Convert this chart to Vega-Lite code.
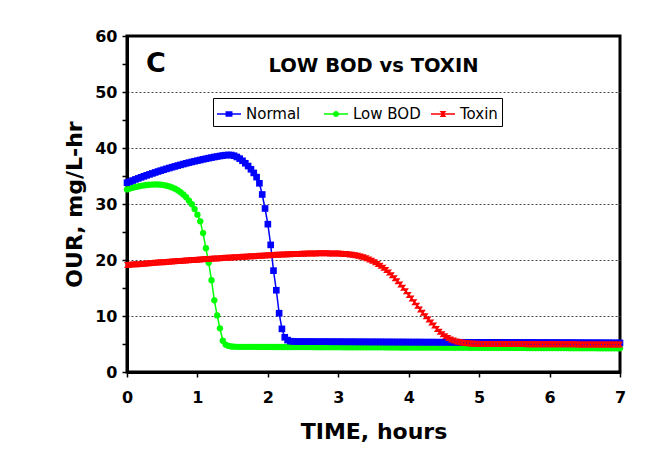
{
  "$schema": "https://vega.github.io/schema/vega-lite/v6.json",
  "width": 493,
  "height": 336,
  "autosize": {"type": "none"},
  "padding": {"left": 127, "top": 36, "right": 44, "bottom": 88},
  "background": "white",
  "title": {
    "text": "LOW BOD vs TOXIN",
    "anchor": "middle",
    "frame": "group",
    "offset": -48,
    "font": "DejaVu Sans",
    "fontSize": 19.5,
    "fontWeight": "bold",
    "color": "black"
  },
  "config": {
    "view": {"stroke": "black", "strokeWidth": 3},
    "axis": {
      "labelFont": "DejaVu Sans",
      "labelFontWeight": "bold",
      "labelFontSize": 16,
      "labelColor": "black",
      "titleFont": "DejaVu Sans",
      "titleFontWeight": "bold",
      "titleFontSize": 22,
      "titleColor": "black",
      "domainColor": "black",
      "domainWidth": 3,
      "tickColor": "black",
      "tickWidth": 1.5,
      "tickSize": 5,
      "labelFlush": false,
      "labelOverlap": false
    }
  },
  "data": {
    "values": [
      {"t": 0, "Normal": 33.8, "Low BOD": 32.6, "Toxin": 19.1},
      {"t": 0.04, "Normal": 34.0, "Low BOD": 32.75, "Toxin": 19.14},
      {"t": 0.08, "Normal": 34.19, "Low BOD": 32.9, "Toxin": 19.18},
      {"t": 0.12, "Normal": 34.39, "Low BOD": 33.03, "Toxin": 19.22},
      {"t": 0.16, "Normal": 34.57, "Low BOD": 33.14, "Toxin": 19.26},
      {"t": 0.2, "Normal": 34.76, "Low BOD": 33.24, "Toxin": 19.3},
      {"t": 0.24, "Normal": 34.94, "Low BOD": 33.32, "Toxin": 19.34},
      {"t": 0.28, "Normal": 35.12, "Low BOD": 33.39, "Toxin": 19.38},
      {"t": 0.32, "Normal": 35.29, "Low BOD": 33.44, "Toxin": 19.42},
      {"t": 0.36, "Normal": 35.46, "Low BOD": 33.47, "Toxin": 19.46},
      {"t": 0.4, "Normal": 35.63, "Low BOD": 33.49, "Toxin": 19.5},
      {"t": 0.44, "Normal": 35.8, "Low BOD": 33.48, "Toxin": 19.54},
      {"t": 0.48, "Normal": 35.96, "Low BOD": 33.45, "Toxin": 19.58},
      {"t": 0.52, "Normal": 36.12, "Low BOD": 33.38, "Toxin": 19.62},
      {"t": 0.56, "Normal": 36.27, "Low BOD": 33.28, "Toxin": 19.65},
      {"t": 0.6, "Normal": 36.42, "Low BOD": 33.14, "Toxin": 19.69},
      {"t": 0.64, "Normal": 36.57, "Low BOD": 32.96, "Toxin": 19.73},
      {"t": 0.68, "Normal": 36.71, "Low BOD": 32.74, "Toxin": 19.77},
      {"t": 0.72, "Normal": 36.86, "Low BOD": 32.46, "Toxin": 19.81},
      {"t": 0.76, "Normal": 36.99, "Low BOD": 32.12, "Toxin": 19.84},
      {"t": 0.8, "Normal": 37.13, "Low BOD": 31.7, "Toxin": 19.88},
      {"t": 0.84, "Normal": 37.26, "Low BOD": 31.2, "Toxin": 19.92},
      {"t": 0.88, "Normal": 37.39, "Low BOD": 30.6, "Toxin": 19.95},
      {"t": 0.92, "Normal": 37.51, "Low BOD": 29.95, "Toxin": 19.99},
      {"t": 0.96, "Normal": 37.63, "Low BOD": 29.1, "Toxin": 20.02},
      {"t": 1.0, "Normal": 37.75, "Low BOD": 28.1, "Toxin": 20.06},
      {"t": 1.04, "Normal": 37.86, "Low BOD": 26.9, "Toxin": 20.09},
      {"t": 1.08, "Normal": 37.98, "Low BOD": 24.8, "Toxin": 20.13},
      {"t": 1.12, "Normal": 38.08, "Low BOD": 22.1, "Toxin": 20.16},
      {"t": 1.16, "Normal": 38.19, "Low BOD": 19.5, "Toxin": 20.2},
      {"t": 1.2, "Normal": 38.29, "Low BOD": 16.4, "Toxin": 20.23},
      {"t": 1.24, "Normal": 38.39, "Low BOD": 12.8, "Toxin": 20.26},
      {"t": 1.28, "Normal": 38.48, "Low BOD": 10.1, "Toxin": 20.29},
      {"t": 1.32, "Normal": 38.57, "Low BOD": 7.8, "Toxin": 20.33},
      {"t": 1.36, "Normal": 38.65, "Low BOD": 5.6, "Toxin": 20.36},
      {"t": 1.4, "Normal": 38.72, "Low BOD": 4.9, "Toxin": 20.39},
      {"t": 1.44, "Normal": 38.76, "Low BOD": 4.65, "Toxin": 20.42},
      {"t": 1.48, "Normal": 38.74, "Low BOD": 4.55, "Toxin": 20.45},
      {"t": 1.52, "Normal": 38.62, "Low BOD": 4.52, "Toxin": 20.48},
      {"t": 1.56, "Normal": 38.4, "Low BOD": 4.5, "Toxin": 20.51},
      {"t": 1.6, "Normal": 38.1, "Low BOD": 4.5, "Toxin": 20.54},
      {"t": 1.64, "Normal": 37.72, "Low BOD": 4.5, "Toxin": 20.57},
      {"t": 1.68, "Normal": 37.28, "Low BOD": 4.49, "Toxin": 20.6},
      {"t": 1.72, "Normal": 36.78, "Low BOD": 4.49, "Toxin": 20.63},
      {"t": 1.76, "Normal": 36.2, "Low BOD": 4.49, "Toxin": 20.66},
      {"t": 1.8, "Normal": 35.55, "Low BOD": 4.49, "Toxin": 20.69},
      {"t": 1.84, "Normal": 34.8, "Low BOD": 4.49, "Toxin": 20.72},
      {"t": 1.88, "Normal": 33.7, "Low BOD": 4.48, "Toxin": 20.75},
      {"t": 1.92, "Normal": 31.7, "Low BOD": 4.48, "Toxin": 20.78},
      {"t": 1.96, "Normal": 29.2, "Low BOD": 4.48, "Toxin": 20.81},
      {"t": 2.0, "Normal": 26.4, "Low BOD": 4.48, "Toxin": 20.84},
      {"t": 2.04, "Normal": 22.7, "Low BOD": 4.48, "Toxin": 20.87},
      {"t": 2.08, "Normal": 18.1, "Low BOD": 4.47, "Toxin": 20.89},
      {"t": 2.12, "Normal": 14.6, "Low BOD": 4.47, "Toxin": 20.92},
      {"t": 2.16, "Normal": 10.5, "Low BOD": 4.47, "Toxin": 20.94},
      {"t": 2.2, "Normal": 7.7, "Low BOD": 4.47, "Toxin": 20.97},
      {"t": 2.24, "Normal": 6.2, "Low BOD": 4.47, "Toxin": 20.99},
      {"t": 2.28, "Normal": 5.7, "Low BOD": 4.46, "Toxin": 21.01},
      {"t": 2.32, "Normal": 5.5, "Low BOD": 4.46, "Toxin": 21.03},
      {"t": 2.36, "Normal": 5.46, "Low BOD": 4.46, "Toxin": 21.05},
      {"t": 2.4, "Normal": 5.43, "Low BOD": 4.46, "Toxin": 21.07},
      {"t": 2.44, "Normal": 5.43, "Low BOD": 4.46, "Toxin": 21.09},
      {"t": 2.48, "Normal": 5.43, "Low BOD": 4.45, "Toxin": 21.11},
      {"t": 2.52, "Normal": 5.42, "Low BOD": 4.45, "Toxin": 21.13},
      {"t": 2.56, "Normal": 5.42, "Low BOD": 4.45, "Toxin": 21.14},
      {"t": 2.6, "Normal": 5.42, "Low BOD": 4.45, "Toxin": 21.16},
      {"t": 2.64, "Normal": 5.42, "Low BOD": 4.45, "Toxin": 21.17},
      {"t": 2.68, "Normal": 5.41, "Low BOD": 4.44, "Toxin": 21.18},
      {"t": 2.72, "Normal": 5.41, "Low BOD": 4.44, "Toxin": 21.19},
      {"t": 2.76, "Normal": 5.41, "Low BOD": 4.44, "Toxin": 21.19},
      {"t": 2.8, "Normal": 5.41, "Low BOD": 4.44, "Toxin": 21.19},
      {"t": 2.84, "Normal": 5.41, "Low BOD": 4.44, "Toxin": 21.19},
      {"t": 2.88, "Normal": 5.4, "Low BOD": 4.43, "Toxin": 21.18},
      {"t": 2.92, "Normal": 5.4, "Low BOD": 4.43, "Toxin": 21.17},
      {"t": 2.96, "Normal": 5.4, "Low BOD": 4.43, "Toxin": 21.16},
      {"t": 3.0, "Normal": 5.4, "Low BOD": 4.43, "Toxin": 21.14},
      {"t": 3.04, "Normal": 5.4, "Low BOD": 4.43, "Toxin": 21.12},
      {"t": 3.08, "Normal": 5.39, "Low BOD": 4.42, "Toxin": 21.09},
      {"t": 3.12, "Normal": 5.39, "Low BOD": 4.42, "Toxin": 21.05},
      {"t": 3.16, "Normal": 5.39, "Low BOD": 4.42, "Toxin": 21.0},
      {"t": 3.2, "Normal": 5.39, "Low BOD": 4.42, "Toxin": 20.93},
      {"t": 3.24, "Normal": 5.38, "Low BOD": 4.42, "Toxin": 20.85},
      {"t": 3.28, "Normal": 5.38, "Low BOD": 4.41, "Toxin": 20.75},
      {"t": 3.32, "Normal": 5.38, "Low BOD": 4.41, "Toxin": 20.63},
      {"t": 3.36, "Normal": 5.38, "Low BOD": 4.41, "Toxin": 20.48},
      {"t": 3.4, "Normal": 5.38, "Low BOD": 4.41, "Toxin": 20.3},
      {"t": 3.44, "Normal": 5.37, "Low BOD": 4.41, "Toxin": 20.09},
      {"t": 3.48, "Normal": 5.37, "Low BOD": 4.4, "Toxin": 19.86},
      {"t": 3.52, "Normal": 5.37, "Low BOD": 4.4, "Toxin": 19.6},
      {"t": 3.56, "Normal": 5.37, "Low BOD": 4.4, "Toxin": 19.3},
      {"t": 3.6, "Normal": 5.37, "Low BOD": 4.4, "Toxin": 18.97},
      {"t": 3.64, "Normal": 5.36, "Low BOD": 4.4, "Toxin": 18.6},
      {"t": 3.68, "Normal": 5.36, "Low BOD": 4.39, "Toxin": 18.2},
      {"t": 3.72, "Normal": 5.36, "Low BOD": 4.39, "Toxin": 17.76},
      {"t": 3.76, "Normal": 5.36, "Low BOD": 4.39, "Toxin": 17.28},
      {"t": 3.8, "Normal": 5.35, "Low BOD": 4.39, "Toxin": 16.76},
      {"t": 3.84, "Normal": 5.35, "Low BOD": 4.39, "Toxin": 16.21},
      {"t": 3.88, "Normal": 5.35, "Low BOD": 4.38, "Toxin": 15.63},
      {"t": 3.92, "Normal": 5.35, "Low BOD": 4.38, "Toxin": 15.03},
      {"t": 3.96, "Normal": 5.35, "Low BOD": 4.38, "Toxin": 14.41},
      {"t": 4.0, "Normal": 5.34, "Low BOD": 4.38, "Toxin": 13.77},
      {"t": 4.04, "Normal": 5.34, "Low BOD": 4.38, "Toxin": 13.12},
      {"t": 4.08, "Normal": 5.34, "Low BOD": 4.37, "Toxin": 12.47},
      {"t": 4.12, "Normal": 5.34, "Low BOD": 4.37, "Toxin": 11.82},
      {"t": 4.16, "Normal": 5.34, "Low BOD": 4.37, "Toxin": 11.18},
      {"t": 4.2, "Normal": 5.33, "Low BOD": 4.37, "Toxin": 10.56},
      {"t": 4.24, "Normal": 5.33, "Low BOD": 4.37, "Toxin": 9.96},
      {"t": 4.28, "Normal": 5.33, "Low BOD": 4.36, "Toxin": 9.39},
      {"t": 4.32, "Normal": 5.33, "Low BOD": 4.36, "Toxin": 8.85},
      {"t": 4.36, "Normal": 5.33, "Low BOD": 4.36, "Toxin": 8.3},
      {"t": 4.4, "Normal": 5.32, "Low BOD": 4.36, "Toxin": 7.7},
      {"t": 4.44, "Normal": 5.32, "Low BOD": 4.36, "Toxin": 7.2},
      {"t": 4.48, "Normal": 5.32, "Low BOD": 4.35, "Toxin": 6.75},
      {"t": 4.52, "Normal": 5.32, "Low BOD": 4.35, "Toxin": 6.38},
      {"t": 4.56, "Normal": 5.32, "Low BOD": 4.35, "Toxin": 6.07},
      {"t": 4.6, "Normal": 5.31, "Low BOD": 4.35, "Toxin": 5.82},
      {"t": 4.64, "Normal": 5.31, "Low BOD": 4.35, "Toxin": 5.62},
      {"t": 4.68, "Normal": 5.31, "Low BOD": 4.34, "Toxin": 5.46},
      {"t": 4.72, "Normal": 5.31, "Low BOD": 4.34, "Toxin": 5.34},
      {"t": 4.76, "Normal": 5.31, "Low BOD": 4.34, "Toxin": 5.25},
      {"t": 4.8, "Normal": 5.3, "Low BOD": 4.34, "Toxin": 5.18},
      {"t": 4.84, "Normal": 5.3, "Low BOD": 4.34, "Toxin": 5.13},
      {"t": 4.88, "Normal": 5.3, "Low BOD": 4.33, "Toxin": 5.09},
      {"t": 4.92, "Normal": 5.3, "Low BOD": 4.33, "Toxin": 5.06},
      {"t": 4.96, "Normal": 5.3, "Low BOD": 4.33, "Toxin": 5.04},
      {"t": 5.0, "Normal": 5.29, "Low BOD": 4.33, "Toxin": 5.02},
      {"t": 5.04, "Normal": 5.29, "Low BOD": 4.33, "Toxin": 5.02},
      {"t": 5.08, "Normal": 5.29, "Low BOD": 4.32, "Toxin": 5.01},
      {"t": 5.12, "Normal": 5.29, "Low BOD": 4.32, "Toxin": 5.01},
      {"t": 5.16, "Normal": 5.29, "Low BOD": 4.32, "Toxin": 5.01},
      {"t": 5.2, "Normal": 5.28, "Low BOD": 4.32, "Toxin": 5.0},
      {"t": 5.24, "Normal": 5.28, "Low BOD": 4.32, "Toxin": 5.0},
      {"t": 5.28, "Normal": 5.28, "Low BOD": 4.31, "Toxin": 5.0},
      {"t": 5.32, "Normal": 5.28, "Low BOD": 4.31, "Toxin": 5.0},
      {"t": 5.36, "Normal": 5.28, "Low BOD": 4.31, "Toxin": 4.99},
      {"t": 5.4, "Normal": 5.27, "Low BOD": 4.31, "Toxin": 4.99},
      {"t": 5.44, "Normal": 5.27, "Low BOD": 4.31, "Toxin": 4.99},
      {"t": 5.48, "Normal": 5.27, "Low BOD": 4.3, "Toxin": 4.99},
      {"t": 5.52, "Normal": 5.27, "Low BOD": 4.3, "Toxin": 4.98},
      {"t": 5.56, "Normal": 5.27, "Low BOD": 4.3, "Toxin": 4.98},
      {"t": 5.6, "Normal": 5.26, "Low BOD": 4.3, "Toxin": 4.98},
      {"t": 5.64, "Normal": 5.26, "Low BOD": 4.3, "Toxin": 4.98},
      {"t": 5.68, "Normal": 5.26, "Low BOD": 4.29, "Toxin": 4.97},
      {"t": 5.72, "Normal": 5.26, "Low BOD": 4.29, "Toxin": 4.97},
      {"t": 5.76, "Normal": 5.26, "Low BOD": 4.29, "Toxin": 4.97},
      {"t": 5.8, "Normal": 5.25, "Low BOD": 4.29, "Toxin": 4.97},
      {"t": 5.84, "Normal": 5.25, "Low BOD": 4.29, "Toxin": 4.96},
      {"t": 5.88, "Normal": 5.25, "Low BOD": 4.28, "Toxin": 4.96},
      {"t": 5.92, "Normal": 5.25, "Low BOD": 4.28, "Toxin": 4.96},
      {"t": 5.96, "Normal": 5.25, "Low BOD": 4.28, "Toxin": 4.96},
      {"t": 6.0, "Normal": 5.24, "Low BOD": 4.28, "Toxin": 4.95},
      {"t": 6.04, "Normal": 5.24, "Low BOD": 4.28, "Toxin": 4.95},
      {"t": 6.08, "Normal": 5.24, "Low BOD": 4.27, "Toxin": 4.95},
      {"t": 6.12, "Normal": 5.24, "Low BOD": 4.27, "Toxin": 4.95},
      {"t": 6.16, "Normal": 5.23, "Low BOD": 4.27, "Toxin": 4.95},
      {"t": 6.2, "Normal": 5.23, "Low BOD": 4.27, "Toxin": 4.94},
      {"t": 6.24, "Normal": 5.23, "Low BOD": 4.27, "Toxin": 4.94},
      {"t": 6.28, "Normal": 5.23, "Low BOD": 4.26, "Toxin": 4.94},
      {"t": 6.32, "Normal": 5.23, "Low BOD": 4.26, "Toxin": 4.94},
      {"t": 6.36, "Normal": 5.22, "Low BOD": 4.26, "Toxin": 4.94},
      {"t": 6.4, "Normal": 5.22, "Low BOD": 4.26, "Toxin": 4.93},
      {"t": 6.44, "Normal": 5.22, "Low BOD": 4.26, "Toxin": 4.93},
      {"t": 6.48, "Normal": 5.22, "Low BOD": 4.25, "Toxin": 4.93},
      {"t": 6.52, "Normal": 5.22, "Low BOD": 4.25, "Toxin": 4.93},
      {"t": 6.56, "Normal": 5.21, "Low BOD": 4.25, "Toxin": 4.93},
      {"t": 6.6, "Normal": 5.21, "Low BOD": 4.25, "Toxin": 4.92},
      {"t": 6.64, "Normal": 5.21, "Low BOD": 4.25, "Toxin": 4.92},
      {"t": 6.68, "Normal": 5.21, "Low BOD": 4.24, "Toxin": 4.92},
      {"t": 6.72, "Normal": 5.21, "Low BOD": 4.24, "Toxin": 4.92},
      {"t": 6.76, "Normal": 5.2, "Low BOD": 4.24, "Toxin": 4.92},
      {"t": 6.8, "Normal": 5.2, "Low BOD": 4.24, "Toxin": 4.91},
      {"t": 6.84, "Normal": 5.2, "Low BOD": 4.24, "Toxin": 4.91},
      {"t": 6.88, "Normal": 5.2, "Low BOD": 4.23, "Toxin": 4.91},
      {"t": 6.92, "Normal": 5.19, "Low BOD": 4.23, "Toxin": 4.91},
      {"t": 6.96, "Normal": 5.19, "Low BOD": 4.23, "Toxin": 4.91},
      {"t": 7.0, "Normal": 5.19, "Low BOD": 4.23, "Toxin": 4.9}
    ]
  },
  "transform": [{"fold": ["Normal", "Low BOD", "Toxin"], "as": ["series", "v"]}],
  "encoding": {
    "x": {
      "field": "t",
      "type": "quantitative",
      "scale": {"domain": [0, 7], "nice": false},
      "axis": {
        "title": "TIME, hours",
        "values": [0, 0.5, 1, 1.5, 2, 2.5, 3, 3.5, 4, 4.5, 5, 5.5, 6, 6.5, 7],
        "format": "d",
        "labelExpr": "datum.value % 1 ? '' : datum.label",
        "grid": false,
        "labelPadding": 12,
        "titlePadding": 16
      }
    },
    "y": {
      "field": "v",
      "type": "quantitative",
      "scale": {"domain": [0, 60], "nice": false},
      "axis": {
        "title": "OUR, mg/L-hr",
        "values": [0, 5, 10, 15, 20, 25, 30, 35, 40, 45, 50, 55, 60],
        "labelExpr": "datum.value % 10 ? '' : datum.label",
        "grid": true,
        "gridColor": "#444444",
        "gridDash": [2, 2],
        "gridWidth": 1,
        "gridOpacity": {
          "condition": {"test": "datum.value % 10 != 0 || datum.value == 0 || datum.value == 60", "value": 0},
          "value": 1
        },
        "labelPadding": 5,
        "titlePadding": 8
      }
    }
  },
  "layer": [
    {
      "mark": {"type": "line", "strokeWidth": 1.5},
      "encoding": {
        "color": {
          "field": "series",
          "type": "nominal",
          "scale": {"domain": ["Normal", "Low BOD", "Toxin"], "range": ["#0000ff", "#00ff00", "#ff0000"]},
          "legend": null
        }
      }
    },
    {
      "mark": {"type": "point", "filled": true, "opacity": 1, "strokeWidth": 0},
      "encoding": {
        "color": {
          "field": "series",
          "type": "nominal",
          "scale": {"domain": ["Normal", "Low BOD", "Toxin"], "range": ["#0000ff", "#00ff00", "#ff0000"]},
          "legend": null
        },
        "shape": {
          "field": "series",
          "type": "nominal",
          "scale": {
            "domain": ["Normal", "Low BOD", "Toxin"],
            "range": ["square", "circle", "M-1,-1H1L0.3,0L1,1H-1L-0.3,0Z"]
          },
          "legend": null
        },
        "size": {
          "field": "series",
          "type": "nominal",
          "scale": {"domain": ["Normal", "Low BOD", "Toxin"], "range": [44, 36, 120]},
          "legend": null
        },
        "order": {"field": "series", "type": "nominal"}
      }
    },
    {
      "transform": [{"filter": "datum.t < 0"}],
      "mark": {"type": "point", "filled": true, "opacity": 1},
      "encoding": {
        "fill": {
          "field": "series",
          "type": "nominal",
          "scale": {"domain": ["Normal", "Low BOD", "Toxin"], "range": ["#0000ff", "#00ff00", "#ff0000"]},
          "legend": {
            "title": null,
            "orient": "none",
            "legendX": 86,
            "legendY": 62,
            "direction": "horizontal",
            "columns": 3,
            "gridAlign": "all",
            "columnPadding": 10,
            "padding": 4,
            "strokeColor": "black",
            "fillColor": "white",
            "symbolSize": 576,
            "symbolStrokeWidth": 0,
            "symbolOpacity": 1,
            "labelFont": "DejaVu Sans",
            "labelFontSize": 15,
            "labelColor": "black",
            "labelOffset": 5
          }
        },
        "shape": {
          "field": "series",
          "type": "nominal",
          "scale": {
            "domain": ["Normal", "Low BOD", "Toxin"],
            "range": [
              "M-1,-0.06H1V0.06H-1Z M-0.29,-0.22H0.29V0.22H-0.29Z",
              "M-1,-0.06H1V0.06H-1Z M0.25,0A0.25,0.25 0 1,1 -0.25,0A0.25,0.25 0 1,1 0.25,0Z",
              "M-1,-0.06H1V0.06H-1Z M-0.29,-0.25H0.29L0.08,0L0.29,0.25H-0.29L-0.08,0Z"
            ]
          },
          "legend": {
            "title": null,
            "orient": "none",
            "legendX": 86,
            "legendY": 62,
            "direction": "horizontal",
            "columns": 3,
            "gridAlign": "all",
            "columnPadding": 10,
            "padding": 4,
            "strokeColor": "black",
            "fillColor": "white",
            "symbolSize": 576,
            "symbolStrokeWidth": 0,
            "symbolOpacity": 1,
            "labelFont": "DejaVu Sans",
            "labelFontSize": 15,
            "labelColor": "black",
            "labelOffset": 5
          }
        }
      }
    },
    {
      "transform": [{"filter": "datum.t == 0 && datum.series == 'Normal'"}],
      "mark": {
        "type": "text",
        "font": "DejaVu Sans",
        "fontSize": 27,
        "fontWeight": "bold",
        "align": "center",
        "baseline": "middle",
        "color": "black"
      },
      "encoding": {
        "x": {"datum": 0.41, "type": "quantitative"},
        "y": {"datum": 55.0, "type": "quantitative"},
        "text": {"value": "C"}
      }
    }
  ],
  "resolve": {"scale": {"shape": "independent", "fill": "independent"}}
}
